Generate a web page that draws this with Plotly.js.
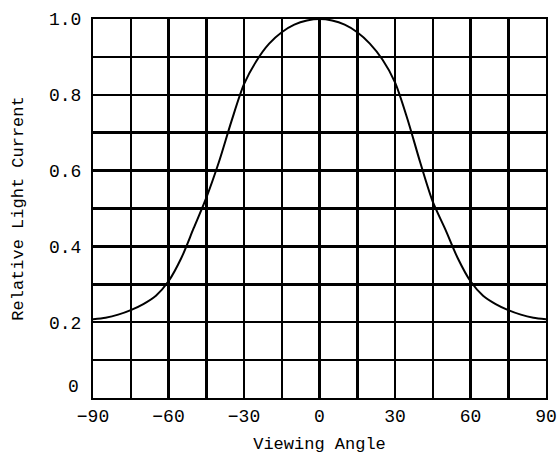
<!DOCTYPE html>
<html>
<head>
<meta charset="utf-8">
<script src="https://cdn.plot.ly/plotly-3.0.1.min.js"></script>
<style>html,body{margin:0;padding:0;background:#fff;}#chart{width:560px;height:459px;}</style>
</head>
<body>
<div id="chart"></div>
<script>
const angles = [-90,-85,-80,-75,-70,-65,-60,-55,-50,-45,-40,-35,-30,-25,-20,-15,-10,-5,0,5,10,15,20,25,30,35,40,45,50,55,60,65,70,75,80,85,90];
const current = [0.208,0.212,0.220,0.232,0.248,0.270,0.308,0.368,0.448,0.528,0.622,0.730,0.828,0.890,0.935,0.965,0.985,0.996,1.0,0.996,0.985,0.965,0.935,0.893,0.833,0.735,0.622,0.518,0.445,0.368,0.308,0.270,0.248,0.232,0.220,0.212,0.208];
const xTicks = [-90,-60,-30,0,30,60,90];
const yTicks = [0.2,0.4,0.6,0.8,1.0];
const zeroLabel = "0";
const xTitle = "Viewing Angle";
const yTitle = "Relative Light Current";

const font = {family: "Liberation Mono, monospace", color: "#000"};

Plotly.newPlot("chart", [{
  x: angles, y: current, type: "scatter", mode: "lines",
  line: {color: "#000", width: 2, shape: "spline", smoothing: 0.8},
  hoverinfo: "skip"
}], {
  width: 560, height: 459,
  margin: {l: 93, r: 14, t: 19, b: 61},
  paper_bgcolor: "#fff", plot_bgcolor: "#fff",
  showlegend: false,
  xaxis: {
    range: [-90, 90], tickvals: xTicks, ticks: "",
    showgrid: true, gridcolor: "#000", gridwidth: 2.5,
    minor: {dtick: 15, tick0: -90, showgrid: true, gridcolor: "#000", gridwidth: 2.5, ticks: ""},
    showline: true, linecolor: "#000", linewidth: 2, mirror: true,
    zeroline: false,
    tickfont: Object.assign({size: 18}, font),
    ticklabelstandoff: 0,
    title: {text: xTitle, font: Object.assign({size: 17}, font), standoff: 12}
  },
  yaxis: {
    range: [0, 1], tickvals: yTicks, tickformat: ".1f", ticks: "",
    showgrid: true, gridcolor: "#000", gridwidth: 2.5,
    minor: {dtick: 0.1, tick0: 0, showgrid: true, gridcolor: "#000", gridwidth: 2.5, ticks: ""},
    showline: true, linecolor: "#000", linewidth: 2, mirror: true,
    zeroline: false,
    tickfont: Object.assign({size: 18}, font),
    ticklabelstandoff: 6,
    title: {text: yTitle, font: Object.assign({size: 17}, font), standoff: 21}
  },
  annotations: [{
    text: zeroLabel, xref: "paper", yref: "y", x: -0.043, y: 0.03,
    showarrow: false, font: Object.assign({size: 18}, font), xanchor: "center", yanchor: "middle"
  }]
}, {displayModeBar: false, staticPlot: true});
</script>
</body>
</html>
